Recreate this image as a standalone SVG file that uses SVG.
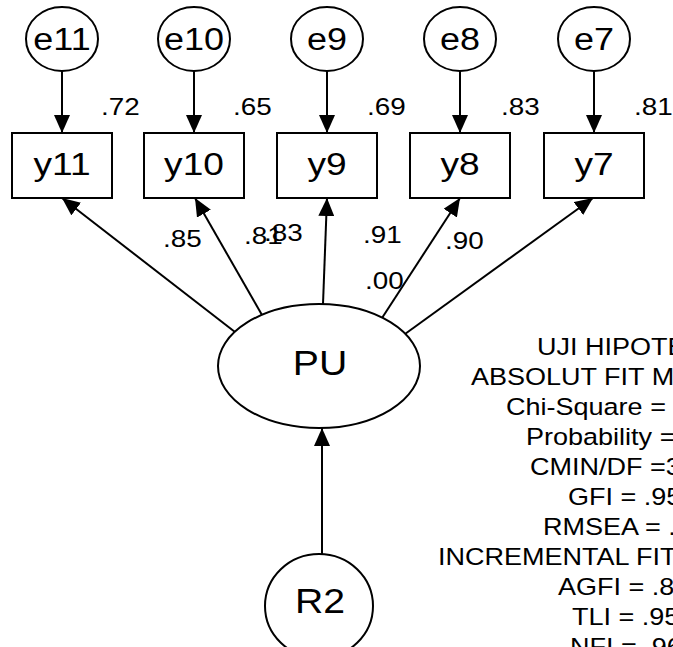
<svg xmlns="http://www.w3.org/2000/svg" width="673" height="647" viewBox="0 0 673 647">
  <defs>
    <marker id="arrow" viewBox="0 0 18 16" refX="18" refY="8" markerWidth="18" markerHeight="16" markerUnits="userSpaceOnUse" orient="auto">
      <path d="M0,0 L18,8 L0,16 Z" fill="#000"/>
    </marker>
    <style>
      .shape { fill: #fff; stroke: #000; stroke-width: 2; }
      .edge { fill: none; stroke: #000; stroke-width: 2; marker-end: url(#arrow); }
      text { font-family: "Liberation Sans", Arial, sans-serif; fill: #000; }
      .mid { text-anchor: middle; }
      .err { font-size: 31px; }
      .obs { font-size: 32px; }
      .lat { font-size: 35px; }
      .est { font-size: 24px; }
      .fit { font-size: 23.5px; }
    </style>
  </defs>

  <rect width="673" height="647" fill="#fff"/>

  <!-- paths: errors to indicators, factor to indicators, residual to factor -->
  <g id="connectors">
    <path class="edge" d="M62,71 L62,133"/>
    <path class="edge" d="M194,71 L194,133"/>
    <path class="edge" d="M327,71 L327,133"/>
    <path class="edge" d="M460,71 L460,133"/>
    <path class="edge" d="M594,71 L594,133"/>

    <path class="edge" d="M235,332 L62,198"/>
    <path class="edge" d="M262,315 L195,198"/>
    <path class="edge" d="M323,304 L327,198"/>
    <path class="edge" d="M382,318 L460,198"/>
    <path class="edge" d="M405,334 L593,198"/>

    <path class="edge" d="M322,554 L322,428"/>
  </g>

  <!-- error terms -->
  <g id="e11"><ellipse class="shape" cx="62" cy="39" rx="36" ry="32"/><text class="err mid" transform="translate(62 50) scale(1.16 1)">e11</text></g>
  <g id="e10"><ellipse class="shape" cx="194" cy="39" rx="36" ry="32"/><text class="err mid" transform="translate(194 50) scale(1.16 1)">e10</text></g>
  <g id="e9"><ellipse class="shape" cx="327" cy="39" rx="36" ry="32"/><text class="err mid" transform="translate(327 50) scale(1.16 1)">e9</text></g>
  <g id="e8"><ellipse class="shape" cx="460" cy="39" rx="36" ry="32"/><text class="err mid" transform="translate(460 50) scale(1.16 1)">e8</text></g>
  <g id="e7"><ellipse class="shape" cx="594" cy="39" rx="36" ry="32"/><text class="err mid" transform="translate(594 50) scale(1.16 1)">e7</text></g>

  <!-- observed indicators -->
  <g id="y11"><rect class="shape" x="12" y="133" width="100" height="65"/><text class="obs mid" transform="translate(62 175) scale(1.16 1)">y11</text></g>
  <g id="y10"><rect class="shape" x="144" y="133" width="100" height="65"/><text class="obs mid" transform="translate(194 175) scale(1.16 1)">y10</text></g>
  <g id="y9"><rect class="shape" x="277" y="133" width="100" height="65"/><text class="obs mid" transform="translate(327 175) scale(1.16 1)">y9</text></g>
  <g id="y8"><rect class="shape" x="410" y="133" width="100" height="65"/><text class="obs mid" transform="translate(460 175) scale(1.16 1)">y8</text></g>
  <g id="y7"><rect class="shape" x="544" y="133" width="100" height="65"/><text class="obs mid" transform="translate(594 175) scale(1.16 1)">y7</text></g>

  <!-- latent factor and its residual -->
  <g id="PU"><ellipse class="shape" cx="319" cy="366" rx="101" ry="62"/><text class="lat mid" transform="translate(320 375) scale(1.12 1)">PU</text></g>
  <g id="R2"><ellipse class="shape" cx="319" cy="606" rx="54" ry="52"/><text class="lat mid" transform="translate(320 613) scale(1.12 1)">R2</text></g>

  <!-- estimates -->
  <g id="estimates" class="est">
    <text transform="translate(101 115) scale(1.16 1)">.72</text>
    <text transform="translate(233 115) scale(1.16 1)">.65</text>
    <text transform="translate(367 115) scale(1.16 1)">.69</text>
    <text transform="translate(501 115) scale(1.16 1)">.83</text>
    <text transform="translate(634 115) scale(1.16 1)">.81</text>
    <text transform="translate(163 247) scale(1.16 1)">.85</text>
    <text transform="translate(244 244) scale(1.16 1)">.81</text>
    <text transform="translate(264 241) scale(1.16 1)">.83</text>
    <text transform="translate(363 243) scale(1.16 1)">.91</text>
    <text transform="translate(445 249) scale(1.16 1)">.90</text>
    <text transform="translate(365 289) scale(1.16 1)">.00</text>
  </g>

  <!-- fit summary -->
  <g id="fit-summary" class="fit">
    <text transform="translate(537 355) scale(1.15 1)">UJI HIPOTE</text>
    <text transform="translate(471 385) scale(1.15 1)">ABSOLUT FIT ME</text>
    <text transform="translate(506 415) scale(1.15 1)">Chi-Square =</text>
    <text transform="translate(526 445) scale(1.15 1)">Probability =</text>
    <text transform="translate(530 475) scale(1.15 1)">CMIN/DF =3</text>
    <text transform="translate(568 505) scale(1.15 1)">GFI = .95</text>
    <text transform="translate(543 535) scale(1.15 1)">RMSEA = .</text>
    <text transform="translate(438 565) scale(1.15 1)">INCREMENTAL FIT</text>
    <text transform="translate(558 595) scale(1.15 1)">AGFI = .8</text>
    <text transform="translate(572 625) scale(1.15 1)">TLI = .95</text>
    <text transform="translate(570 655) scale(1.15 1)">NFI = .96</text>
  </g>
</svg>
